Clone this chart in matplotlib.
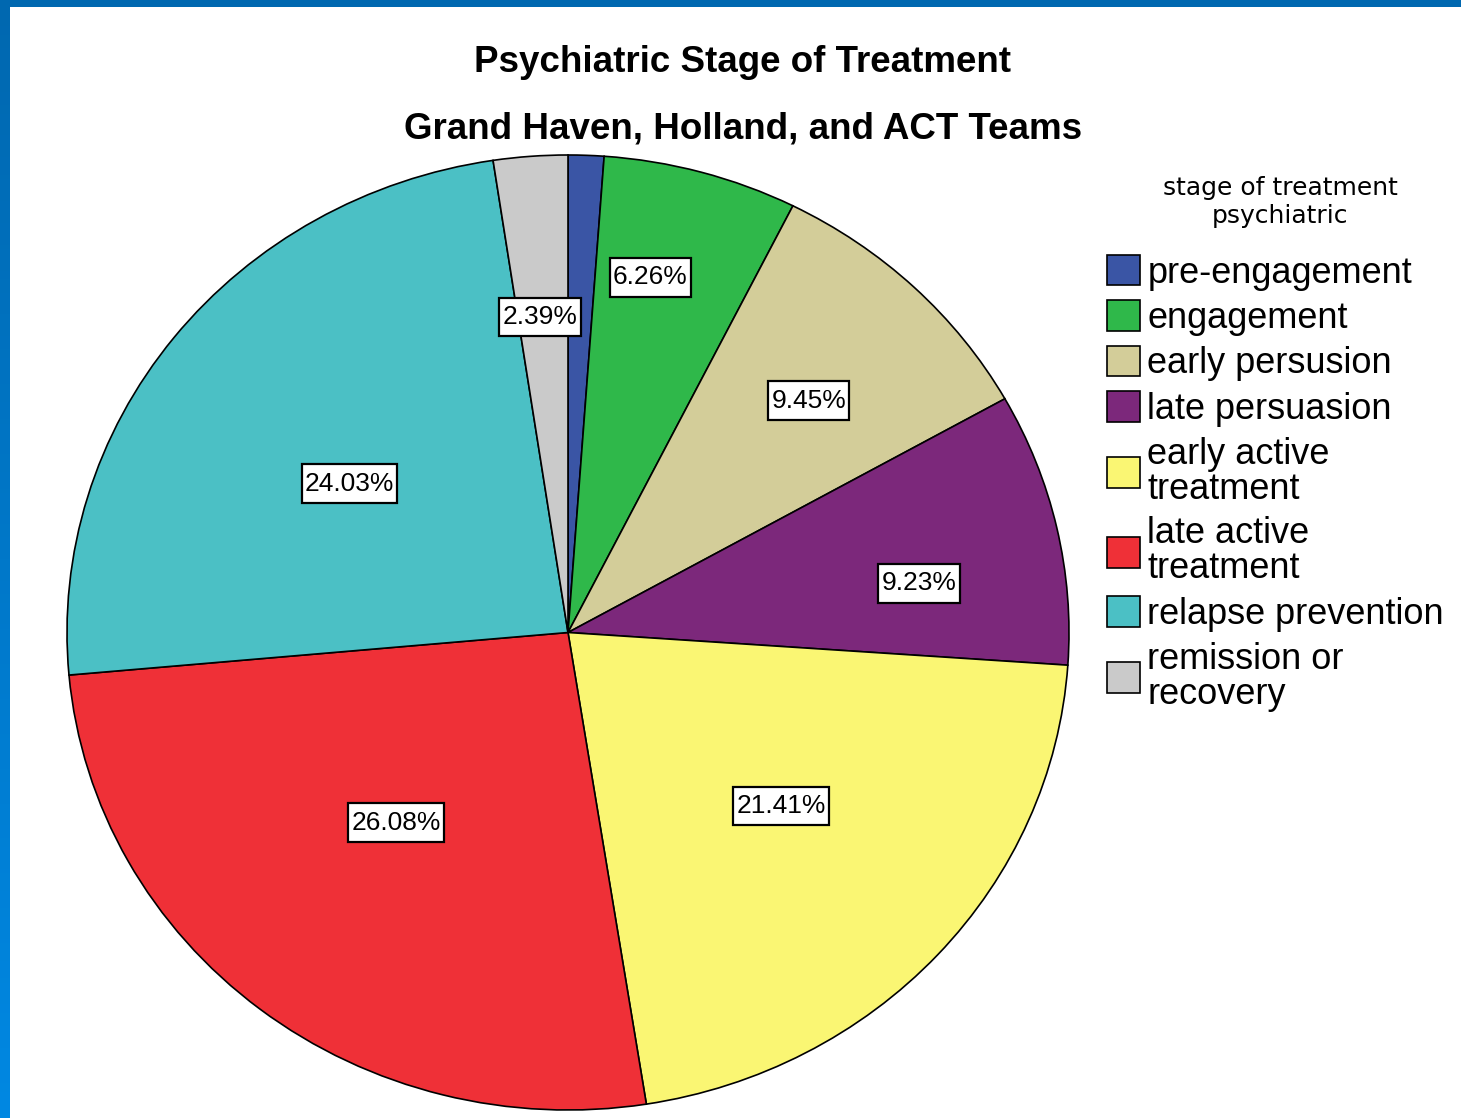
import numpy as np
import matplotlib.pyplot as plt
from matplotlib.patches import Rectangle
from matplotlib.path import Path
from matplotlib.colors import LinearSegmentedColormap

stages = ['pre-engagement', 'engagement', 'early persusion', 'late persuasion',
          'early active\ntreatment', 'late active\ntreatment', 'relapse prevention',
          'remission or\nrecovery']
percents = [1.15, 6.26, 9.45, 9.23, 21.41, 26.08, 24.03, 2.39]
colors = ['#3A55A5', '#2FB84A', '#D3CD99', '#7C287B',
          '#FAF673', '#EF3037', '#4BC0C5', '#CACACA']
# where the % boxes sit: radius and fraction across the wedge (None = hidden)
label_r = [None, 0.762, 0.683, 0.708, 0.559, 0.526, 0.536, 0.663]
label_frac = [None, 0.37, 0.53, 0.63, 0.475, 0.53, 0.47, 0.44]

W, H = 1461, 1118
fig = plt.figure(figsize=(W / 100, H / 100), dpi=100)
fig.patch.set_facecolor('white')

# screenshot frame: blue strip on top and a gradient strip on the left
fig.patches.append(Rectangle((0, 1 - 7 / H), 1, 7 / H, transform=fig.transFigure,
                             facecolor='#0068B0', edgecolor='none', zorder=0))
strip = fig.add_axes([0, 0, 10 / W, 1])
grad = np.linspace(0, 1, 256).reshape(-1, 1)
cm = LinearSegmentedColormap.from_list('edge', ['#0068B0', '#0088E2'])
strip.imshow(grad, aspect='auto', cmap=cm)
strip.axis('off')

# pie is slightly wider than tall in the picture
ax = fig.add_axes([67 / W, 8 / H, 1002 / W, 955 / H])
wedges, _ = ax.pie(percents, colors=colors, startangle=90, counterclock=False,
                   wedgeprops=dict(edgecolor='black', linewidth=1.2))
ax.set_aspect('auto')
ax.set_xlim(-1, 1)
ax.set_ylim(-1, 1)
for w in wedges:
    w.set_clip_on(False)


def tall_box(x0, y0, width, height, mutation_size):
    px, py = 0.12 * mutation_size, 0.28 * mutation_size
    return Path([(x0 - px, y0 - py), (x0 + width + px, y0 - py),
                 (x0 + width + px, y0 + height + py), (x0 - px, y0 + height + py),
                 (x0 - px, y0 - py)], closed=True)


for w, p, r, f in zip(wedges, percents, label_r, label_frac):
    if r is None:
        continue
    # clockwise pie: theta2 is the start edge, theta1 the end edge
    th = np.deg2rad(w.theta2 - f * (w.theta2 - w.theta1))
    ax.text(r * np.cos(th), r * np.sin(th), f'{p:.2f}%', ha='center', va='center',
            fontsize=19, family='Liberation Sans',
            bbox=dict(boxstyle=tall_box, fc='white', ec='black', lw=1.6))

fig.text(743 / W, 1 - 63 / H, 'Psychiatric Stage of Treatment', ha='center', va='center',
         fontsize=26.5, fontweight='bold', family='Liberation Sans')
fig.text(743 / W, 1 - 129 / H, 'Grand Haven, Holland, and ACT Teams', ha='center',
         va='center', fontsize=26.5, fontweight='bold', family='Liberation Sans')

fig.text(1280 / W, 1 - 188 / H, 'stage of treatment', ha='center', va='center',
         fontsize=18, family='DejaVu Sans')
fig.text(1280 / W, 1 - 216 / H, 'psychiatric', ha='center', va='center',
         fontsize=18, family='DejaVu Sans')

leg = fig.legend(wedges, stages, loc='upper left', bbox_to_anchor=(1107 / W, 1 - 255 / H),
                 frameon=False, borderpad=0, borderaxespad=0,
                 prop=dict(family='Liberation Sans', size=26),
                 handlelength=0.92, handleheight=0.92, handletextpad=0.2,
                 labelspacing=0.27)
for t in leg.get_texts():
    t.set_linespacing(1.0)

fig.savefig('out.png', dpi=100, facecolor='white')
